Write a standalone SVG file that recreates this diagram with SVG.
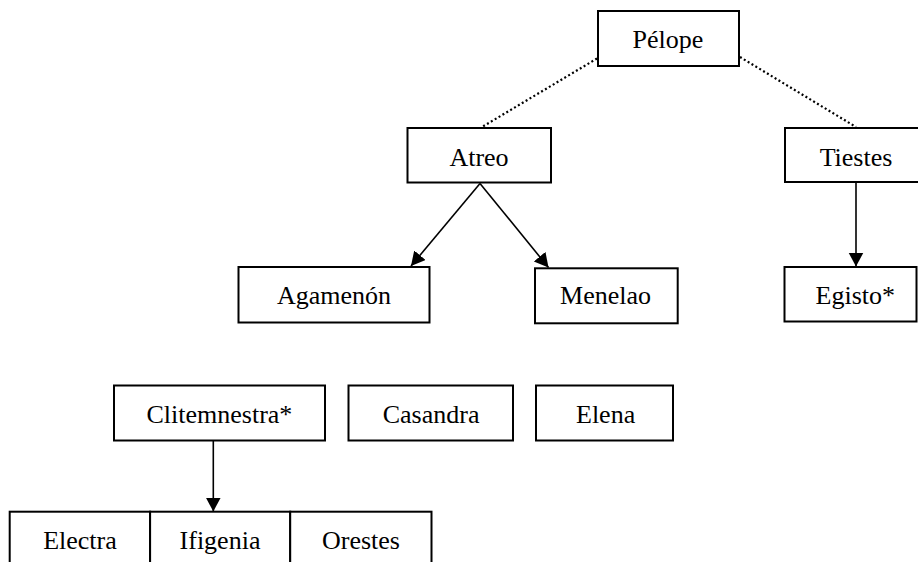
<svg xmlns="http://www.w3.org/2000/svg" width="918" height="562" viewBox="0 0 918 562">
<defs>
<style>
.box{fill:#fff;stroke:#000;stroke-width:2}
.lbl{font-family:"Liberation Serif","Times New Roman",serif;font-size:26px;fill:#000;text-anchor:middle}
.edge{stroke:#000;stroke-width:1.6;fill:none}
.dot{stroke:#000;stroke-width:2.2;fill:none;stroke-dasharray:2 2.5}
</style>
<marker id="ah" markerUnits="userSpaceOnUse" markerWidth="15" markerHeight="16" refX="14" refY="7.5" orient="auto">
<path d="M0,0 L14,7.5 L0,15 z" fill="#000"/>
</marker>
</defs>
<rect width="918" height="562" fill="#fff"/>
<g id="connectors">
<line class="dot" x1="597" y1="58.5" x2="482" y2="127"/>
<line class="dot" x1="740" y1="57" x2="856" y2="127"/>
<line class="edge" x1="480" y1="183.5" x2="411" y2="266" marker-end="url(#ah)"/>
<line class="edge" x1="480" y1="183.5" x2="548.5" y2="267.5" marker-end="url(#ah)"/>
<line class="edge" x1="856" y1="182" x2="856" y2="266.5" marker-end="url(#ah)"/>
<line class="edge" x1="213.3" y1="441" x2="213.3" y2="511.5" marker-end="url(#ah)"/>
</g>
<g id="pelope"><rect class="box" x="598" y="11" width="141" height="55"/><text class="lbl" x="668" y="48">Pélope</text></g>
<g id="atreo"><rect class="box" x="407.5" y="128" width="143.5" height="54.5"/><text class="lbl" x="479" y="165.5">Atreo</text></g>
<g id="tiestes"><rect class="box" x="785" y="128" width="150" height="54"/><text class="lbl" x="856" y="165.5">Tiestes</text></g>
<g id="agamenon"><rect class="box" x="238.5" y="267" width="191" height="55.5"/><text class="lbl" x="334" y="304">Agamenón</text></g>
<g id="menelao"><rect class="box" x="535" y="268.3" width="142.7" height="55"/><text class="lbl" x="605.5" y="304">Menelao</text></g>
<g id="egisto"><rect class="box" x="784.5" y="267" width="132" height="54.5"/><text class="lbl" x="855.3" y="303.5">Egisto*</text></g>
<g id="clitemnestra"><rect class="box" x="114" y="385.5" width="211" height="55"/><text class="lbl" x="219.4" y="423">Clitemnestra*</text></g>
<g id="casandra"><rect class="box" x="348.5" y="385.5" width="164.5" height="55"/><text class="lbl" x="431.1" y="423">Casandra</text></g>
<g id="elena"><rect class="box" x="536" y="385.5" width="137" height="55"/><text class="lbl" x="605.6" y="423">Elena</text></g>
<g id="electra"><rect class="box" x="9.7" y="511.7" width="140.4" height="60"/><text class="lbl" x="80" y="549">Electra</text></g>
<g id="ifigenia"><rect class="box" x="150.1" y="511.7" width="140.1" height="60"/><text class="lbl" x="220" y="549">Ifigenia</text></g>
<g id="orestes"><rect class="box" x="290.2" y="511.7" width="141.3" height="60"/><text class="lbl" x="361" y="549">Orestes</text></g>
</svg>
